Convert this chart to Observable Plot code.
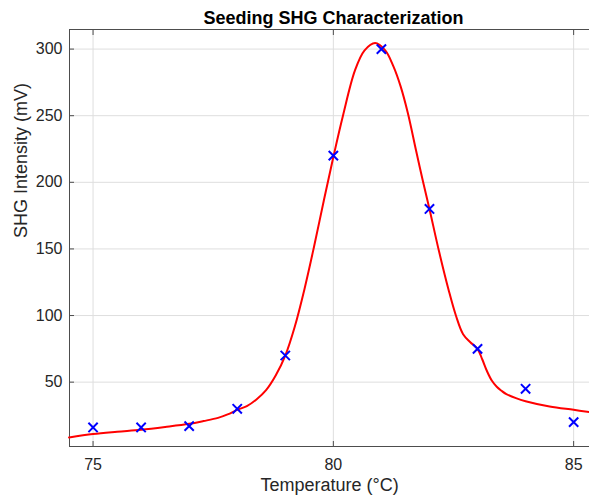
<!DOCTYPE html>
<html>
<head>
<meta charset="utf-8">
<script src="https://cdn.jsdelivr.net/npm/d3@7"></script>
<script src="https://cdn.jsdelivr.net/npm/@observablehq/plot@0.6"></script>
<style>
  html, body { margin: 0; padding: 0; background: #fff; }
  #chart svg { display: block; }
</style>
</head>
<body>
<div id="chart"></div>
<script>
const titleText = "Seeding SHG Characterization";
const xLabel = "Temperature (°C)";
const yLabel = "SHG Intensity (mV)";

// measured points
const temps = [75, 76, 77, 78, 79, 80, 81, 82, 83, 84, 85];
const intensity = [16, 16, 17, 30, 70, 220, 300, 180, 75, 45, 20];

// fitted curve
const fitTemp = [74.5, 75.0, 75.5, 76.0, 76.5, 77.0, 77.3, 77.6, 77.8, 78.0, 78.2, 78.4, 78.6, 78.8, 79.0, 79.2, 79.4, 79.6, 79.8, 80.0, 80.2, 80.45, 80.65, 80.87, 81.08, 81.25, 81.4, 81.55, 81.72, 81.85, 82.0, 82.2, 82.4, 82.55, 82.7, 82.85, 83.0, 83.1, 83.2, 83.3, 83.4, 83.5, 83.6, 83.8, 84.0, 84.5, 85.0, 85.33];
const fitIntensity = [8.5, 11, 12.7, 14.2, 16.3, 18.7, 20.8, 23.2, 25.8, 29.2, 32, 37, 44, 55, 70, 92, 120, 152, 186, 219, 250, 284, 299, 304.5, 299, 287, 272, 252, 224, 203, 180, 148, 119, 100, 86, 80, 75, 67, 58, 51, 46.5, 43.5, 41, 38, 35.7, 31.7, 29.2, 27.5];

const xTicks = [75, 80, 85];
const yTicks = [50, 100, 150, 200, 250, 300];

const xDomain = [74.51, 85.33];
const yDomain = [1.7, 314.7];

const points = temps.map((t, i) => ({t, v: intensity[i]}));
const fit = fitTemp.map((t, i) => ({t, v: fitIntensity[i]}));

const axisColor = "#262626";
const font = "'Liberation Sans', Arial, Helvetica, sans-serif";

const chart = Plot.plot({
  width: 589,
  height: 500,
  marginLeft: 69,
  marginRight: 0,
  marginTop: 29,
  marginBottom: 54,
  style: {fontFamily: font, color: axisColor, background: "#fff"},
  x: {domain: xDomain, ticks: xTicks},
  y: {domain: yDomain, ticks: yTicks},
  marks: [
    Plot.gridX(xTicks, {stroke: "#dedede", strokeOpacity: 1}),
    Plot.gridY(yTicks, {stroke: "#dedede", strokeOpacity: 1}),
    Plot.ruleY([yDomain[1]], {stroke: "#4d4d4d", strokeWidth: 1}),
    Plot.ruleY([yDomain[0]], {stroke: "#4d4d4d", strokeWidth: 1}),
    Plot.ruleX([xDomain[0]], {stroke: "#4d4d4d", strokeWidth: 1}),
    Plot.axisX(xTicks, {anchor: "bottom", tickSize: -5, tickPadding: 17, fontSize: 16, label: null, stroke: "#4d4d4d", fill: axisColor}),
    Plot.axisX(xTicks, {anchor: "top", tickSize: -5, tickFormat: () => "", label: null, stroke: "#4d4d4d"}),
    Plot.axisY(yTicks, {anchor: "left", tickSize: -5, tickPadding: 12, fontSize: 16, label: null, stroke: "#4d4d4d", fill: axisColor}),
    Plot.line(fit, {x: "t", y: "v", stroke: "#ff0000", strokeWidth: 2, curve: "catmull-rom"}),
    Plot.dot(points, {x: "t", y: "v", symbol: "times", r: 4.3, stroke: "#0000ff", strokeWidth: 2}),
    Plot.text([titleText], {frameAnchor: "top", dy: -6, dx: 4, lineAnchor: "bottom", fontSize: 18, fontWeight: "bold", fill: "#000"}),
    Plot.text([xLabel], {frameAnchor: "bottom", dy: 44, lineAnchor: "bottom", fontSize: 18, fill: axisColor}),
    Plot.text([yLabel], {frameAnchor: "left", dx: -48, rotate: -90, fontSize: 18, fill: axisColor})
  ]
});
document.getElementById("chart").appendChild(chart);
</script>
</body>
</html>
